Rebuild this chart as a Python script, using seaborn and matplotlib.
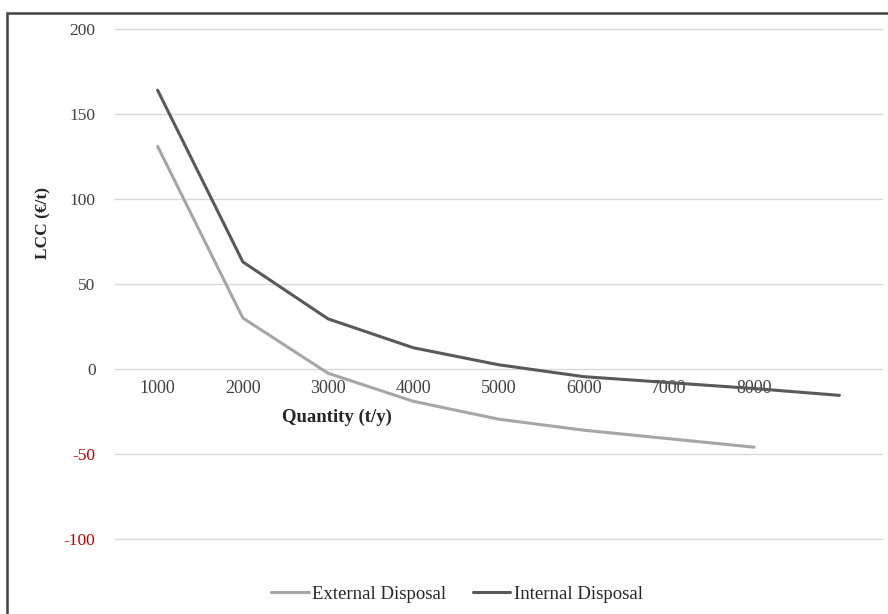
import seaborn as sns
import matplotlib.pyplot as plt
import numpy as np
from matplotlib.patches import Rectangle

quantities = [1000, 2000, 3000, 4000, 5000, 6000, 7000, 8000, 9000]
x_labels = ['1000', '2000', '3000', '4000', '5000', '6000', '7000', '8000', '']
external = [131, 30, -2.5, -19, -29.5, -36, -41, -46, np.nan]
internal = [164, 63, 29.5, 12.5, 2.5, -4.5, -8, -11.5, -15.5]
y_ticks = [-100, -50, 0, 50, 100, 150, 200]

sns.set_style('white')
plt.rcParams['font.family'] = ['Liberation Serif', 'DejaVu Serif']

fig = plt.figure(figsize=(8.88, 6.14), dpi=100)
ax = fig.add_axes([115 / 888, 1 - 539 / 614, 767 / 888, 510 / 614])

sns.lineplot(x=quantities, y=external, ax=ax, color='#a6a6a6', linewidth=2.2,
             label='External Disposal')
sns.lineplot(x=quantities, y=internal, ax=ax, color='#595959', linewidth=2.2,
             label='Internal Disposal')

ax.set_xlim(500, 9500)
ax.set_ylim(-100, 200)
ax.spines['bottom'].set_position(('data', 0))
for s in ax.spines.values():
    s.set_visible(False)

ax.set_yticks(y_ticks)
ax.set_yticklabels([str(v) for v in y_ticks], fontsize=12.5)
for lab, v in zip(ax.get_yticklabels(), y_ticks):
    lab.set_color('#c00000' if v < 0 else '#404040')
ax.grid(axis='y', color='#d9d9d9', linewidth=1)
for gl in ax.get_ygridlines():
    gl.set_clip_on(False)
ax.set_axisbelow(True)

ax.set_xticks(quantities)
ax.set_xticklabels(x_labels, fontsize=13, color='#404040')
ax.tick_params(axis='both', length=0)
ax.tick_params(axis='x', pad=8)
ax.tick_params(axis='y', pad=14)

ax.set_ylabel('LCC (€/t)', fontsize=12.5, fontweight='bold', color='#262626')
ax.yaxis.set_label_coords(-0.083, 0.62)
fig.text(337 / 888, 1 - 417 / 614, 'Quantity (t/y)', fontsize=13.5,
         fontweight='bold', color='#262626', ha='center', va='center')

ax.get_legend().remove()
h, l = ax.get_legend_handles_labels()
fig.legend(h, l, loc='center', bbox_to_anchor=(457 / 888, 1 - 594 / 614),
           ncol=2, frameon=False, fontsize=13.5, handlelength=2.0,
           handletextpad=0.2, columnspacing=1.4, labelcolor='#262626')

fig.patches.append(Rectangle((7 / 888, -0.05), 1.0, 1 - 13 / 614 + 0.05,
                             transform=fig.transFigure, fill=False,
                             edgecolor='#404040', linewidth=1.8))

fig.savefig('out.png', dpi=100)
